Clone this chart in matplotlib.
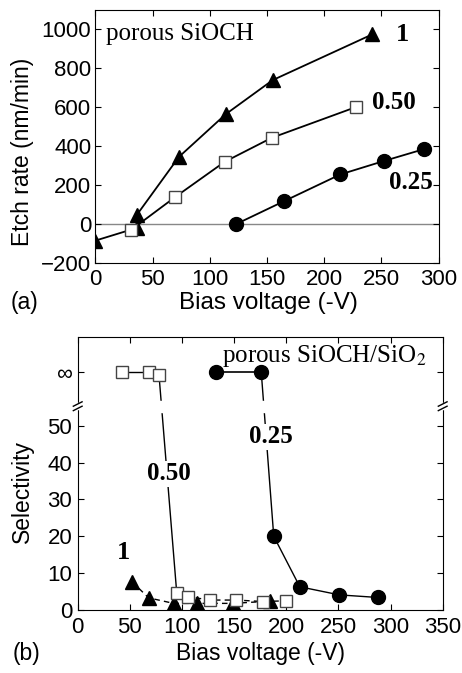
import matplotlib
matplotlib.use("Agg")
import matplotlib.pyplot as plt
import numpy as np

# ---------- Panel (a) data: etch rate vs bias ----------
a_x_1 = [0, 36, 36, 73, 114, 155, 242]
a_y_1 = [-85, -20, 45, 345, 565, 740, 975]
a_x_050 = [31, 70, 113, 154, 228]
a_y_050 = [-31, 140, 320, 443, 602]
a_x_025 = [123, 165, 214, 252, 287]
a_y_025 = [0, 118, 255, 324, 385]

# ---------- Panel (b) data: selectivity vs bias ----------
INF_LEVEL = 64.6  # position of the "infinity" row
b_x_050_inf = [42, 68, 78]
b_x_050_low = [95, 106, 127, 152, 178, 200]
b_y_050_low = [4.5, 3.6, 2.7, 2.7, 2.3, 2.5]
b_x_1 = [52, 68, 92, 114, 149, 184]
b_y_1 = [7.7, 3.3, 1.8, 1.8, 1.8, 2.4]
b_x_025_inf = [133, 176]
b_x_025_low = [188, 213, 251, 288]
b_y_025_low = [20, 6.3, 4.1, 3.4]

a_xticks = [0, 50, 100, 150, 200, 250, 300]
a_yticks = [-200, 0, 200, 400, 600, 800, 1000]
b_xticks = [0, 50, 100, 150, 200, 250, 300, 350]
b_yticks = [0, 10, 20, 30, 40, 50]

plt.rcParams['font.family'] = ['Liberation Sans', 'DejaVu Sans']
SERIF = 'Liberation Serif'
FS = 16
LFS = 16.5
SFS = 18

fig = plt.figure(figsize=(4.62, 6.73), dpi=100)

# ---------------- Panel (a) ----------------
ax1 = fig.add_axes([0.2063, 0.6092, 0.7433, 0.3759])
ax1.axhline(0, color='#888888', lw=1.0, zorder=1)
ms = 9
ax1.plot(a_x_1, a_y_1, '-', color='black', lw=1.3, marker='^', ms=ms+1, mfc='black', mec='black', zorder=3)
ax1.plot(a_x_050, a_y_050, '-', color='black', lw=1.3, marker='s', ms=ms, mfc='white', mec='#444444', mew=1.0, zorder=3)
ax1.plot(a_x_025, a_y_025, '-', color='black', lw=1.3, marker='o', ms=ms+1, mfc='black', mec='black', zorder=3)
ax1.set_xlim(0, 300)
ax1.set_ylim(-200, 1100)
ax1.set_xticks(a_xticks)
ax1.set_yticks(a_yticks)
ax1.tick_params(direction='in', top=True, right=True, labelsize=FS, length=4)
ax1.tick_params(axis='x', pad=4)
ax1.tick_params(axis='y', pad=3)
ax1.set_ylabel('Etch rate (nm/min)', fontsize=LFS)
ax1.yaxis.set_label_coords(-0.213, 0.44)
ax1.yaxis.label.set_va('center')
ax1.set_xlabel('Bias voltage (-V)', fontsize=17.5)
ax1.xaxis.set_label_coords(0.504, -0.113)
ax1.xaxis.label.set_va('top')
ax1.text(0.03, 0.905, 'porous SiOCH', transform=ax1.transAxes, fontsize=SFS,
         family=SERIF, va='center', ha='left')
ax1.text(268, 975, '1', fontsize=SFS+1, family=SERIF, weight='bold', va='center', ha='center')
ax1.text(261, 626, '0.50', fontsize=SFS, family=SERIF, weight='bold', va='center', ha='center')
ax1.text(276, 215, '0.25', fontsize=SFS, family=SERIF, weight='bold', va='center', ha='center')
fig.text(0.022, 0.567, '(a)', fontsize=LFS, va='top')

# ---------------- Panel (b) ----------------
ax2 = fig.add_axes([0.1682, 0.0936, 0.79, 0.4052])
ax2.set_xlim(0, 350)
ax2.set_ylim(0, 74)

# 0.50 series
ax2.plot(b_x_050_inf[:2], [INF_LEVEL]*2, '-', color='black', lw=1.0, zorder=2)
ax2.plot([b_x_050_inf[2], b_x_050_low[0]], [INF_LEVEL - 1, b_y_050_low[0]], '-', color='black', lw=1.0, zorder=2)
ax2.plot(b_x_050_low, b_y_050_low, '--', color='black', lw=1.0, dashes=(4, 3), zorder=2)
ax2.plot(b_x_050_inf, [INF_LEVEL, INF_LEVEL, INF_LEVEL - 0.7], 's', ms=9, mfc='white', mec='#444444', mew=1.0, zorder=3)
ax2.plot(b_x_050_low, b_y_050_low, 's', ms=9, mfc='white', mec='#444444', mew=1.0, zorder=4)

# 1 series
ax2.plot(b_x_1, b_y_1, '--', color='black', lw=1.0, dashes=(4, 3), zorder=2)
ax2.plot(b_x_1, b_y_1, '^', ms=10, mfc='black', mec='black', zorder=3)

# 0.25 series
ax2.plot(b_x_025_inf, [INF_LEVEL]*2, '-', color='black', lw=1.2, zorder=2)
ax2.plot([b_x_025_inf[1], b_x_025_low[0]], [INF_LEVEL, b_y_025_low[0]], '-', color='black', lw=1.0, zorder=2)
ax2.plot(b_x_025_low, b_y_025_low, '-', color='black', lw=1.0, zorder=2)
ax2.plot(b_x_025_inf + b_x_025_low, [INF_LEVEL]*2 + b_y_025_low, 'o', ms=10, mfc='black', mec='black', zorder=3)

ax2.set_xticks(b_xticks)
ax2.set_yticks(b_yticks + [INF_LEVEL])
ax2.set_yticklabels([str(v) for v in b_yticks] + ['∞'])
ax2.tick_params(direction='in', top=True, right=True, labelsize=FS, length=4)
ax2.tick_params(axis='x', pad=5)
ax2.tick_params(axis='y', pad=4)
ax2.set_ylabel('Selectivity', fontsize=LFS)
ax2.yaxis.set_label_coords(-0.15, 0.436)
ax2.yaxis.label.set_va('center')
ax2.set_xlabel('Bias voltage (-V)', fontsize=LFS)
ax2.xaxis.set_label_coords(0.5, -0.119)
ax2.xaxis.label.set_va('top')

# axis break (white band across line + slashes on spines)
BRK = 55.3
ax2.axhspan(BRK - 1.5, BRK + 1.5, color='white', zorder=2.5)
for xs in (0, 1):
    for dy in (-0.6, 0.6):
        ax2.plot([xs - 0.012, xs + 0.012], [BRK + dy - 0.6, BRK + dy + 0.6],
                 color='black', lw=1.0, transform=ax2.get_yaxis_transform(),
                 clip_on=False, zorder=6)
    ax2.plot([xs, xs], [BRK - 0.5, BRK + 0.5], color='white', lw=2.5,
             transform=ax2.get_yaxis_transform(), clip_on=False, zorder=5)

bbox = dict(facecolor='white', edgecolor='none', pad=1)
ax2.text(0.955, 0.93, 'porous SiOCH/SiO$_2$', transform=ax2.transAxes, fontsize=SFS,
         family=SERIF, va='center', ha='right', zorder=5,
         math_fontfamily='stix')
ax2.text(87, 37, '0.50', fontsize=SFS, family=SERIF, weight='bold', va='center', ha='center', bbox=bbox, zorder=5)
ax2.text(185, 47, '0.25', fontsize=SFS, family=SERIF, weight='bold', va='center', ha='center', bbox=bbox, zorder=5)
ax2.text(44, 15.5, '1', fontsize=SFS+1, family=SERIF, weight='bold', va='center', ha='center', zorder=5)
fig.text(0.028, 0.046, '(b)', fontsize=LFS, va='top')

fig.savefig('out.png', dpi=100)
